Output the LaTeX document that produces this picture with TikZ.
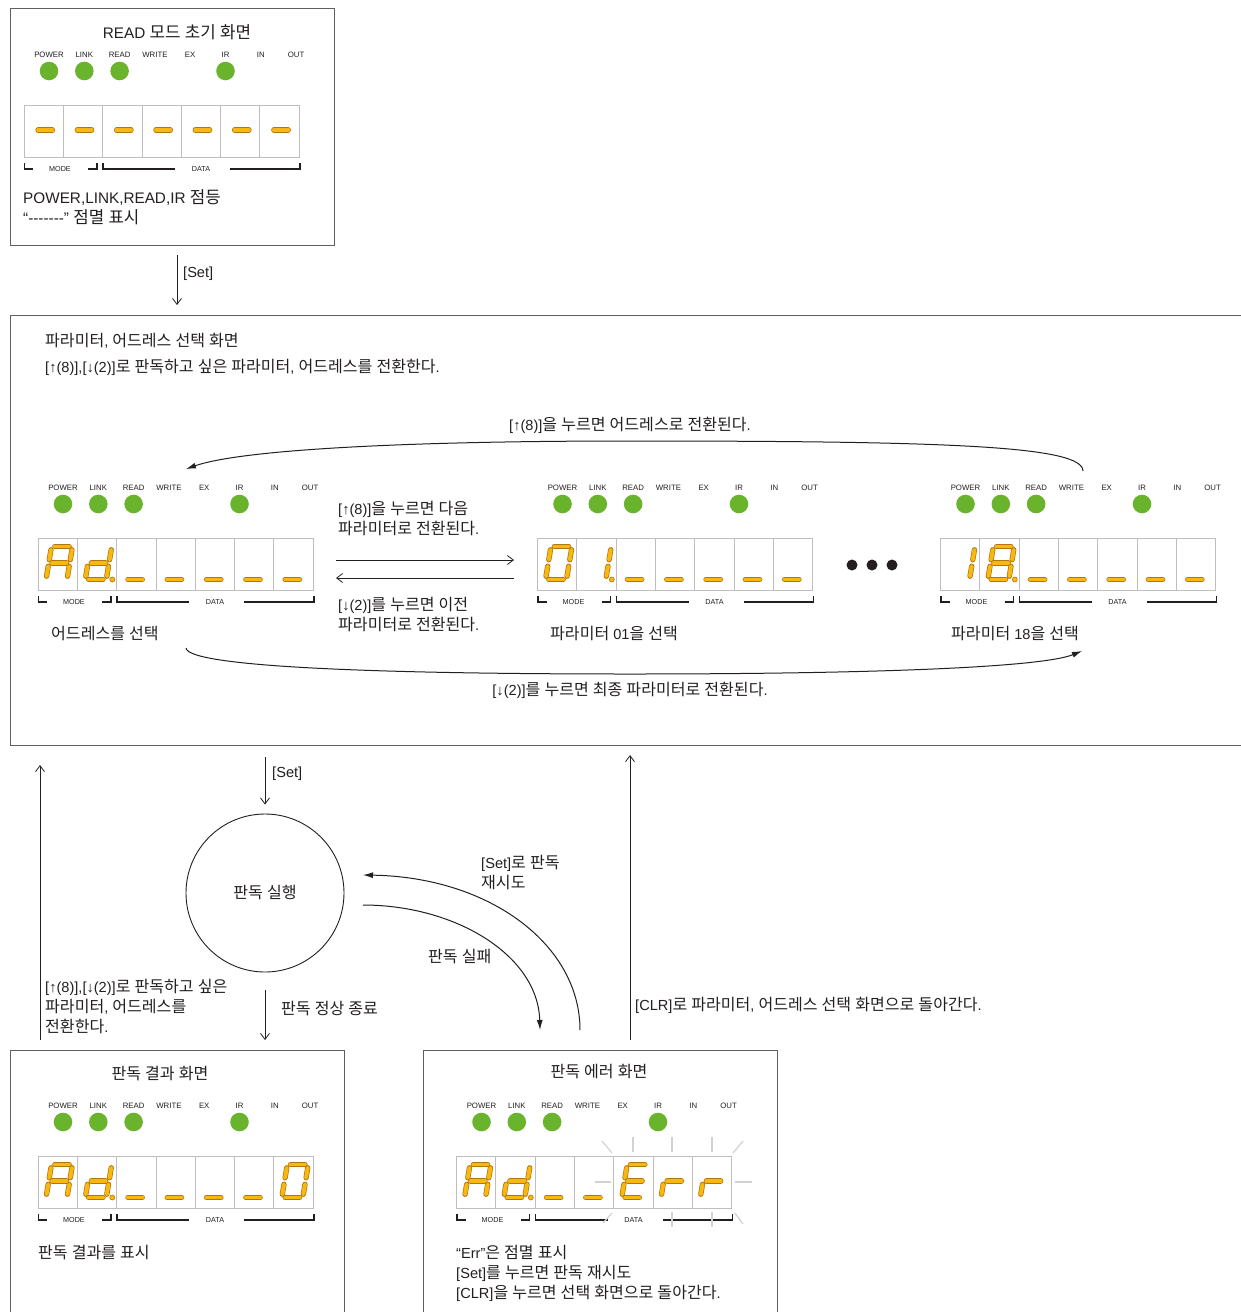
\documentclass[tikz,border=0pt]{standalone}
\usepackage{fontspec}
\setmainfont{Liberation Sans}
\newfontfamily\krfont[Scale=1.1]{Noto Sans CJK KR}
% Hangul syllables switch to the Korean face, everything else stays Latin
\XeTeXinterchartokenstate=1
\chardef\hangulclass=7
\makeatletter
\count@="AC00
\loop
	\XeTeXcharclass\count@=\hangulclass
	\advance\count@ by 1
\ifnum\count@<"D7A4 \repeat
\makeatother
\XeTeXinterchartoks 0 \hangulclass = {\krfont}
\XeTeXinterchartoks 1 \hangulclass = {\krfont}
\XeTeXinterchartoks 2 \hangulclass = {\krfont}
\XeTeXinterchartoks 3 \hangulclass = {\krfont}
\XeTeXinterchartoks 4095 \hangulclass = {\krfont}
\XeTeXinterchartoks \hangulclass 0 = {\rmfamily}
\XeTeXinterchartoks \hangulclass 1 = {\rmfamily}
\XeTeXinterchartoks \hangulclass 2 = {\rmfamily}
\XeTeXinterchartoks \hangulclass 3 = {\rmfamily}
\XeTeXinterchartoks \hangulclass 4095 = {\rmfamily}

\usetikzlibrary{arrows.meta, calc}
\definecolor{ledgreen}{RGB}{106, 180, 45}
\definecolor{segfill} {RGB}{248, 184, 18}
\definecolor{segedge} {RGB}{180, 118, 10}
\definecolor{cellgray}{RGB}{190, 190, 190}
\definecolor{boxgray} {RGB}{95, 95, 95}
\definecolor{ink}     {RGB}{35, 31, 32}
\definecolor{raygray} {RGB}{210, 210, 210}

\tikzset{
	framebox/.style={draw=boxgray, line width=1pt},
	txt/.style={anchor=west, inner sep=0pt, text=ink, align=left, font=\fontsize{14.6}{20}\selectfont},
	title/.style={inner sep=0pt, text=ink, font=\fontsize{14.6}{18}\selectfont},
	ledlabel/.style={inner sep=0pt, text=ink, font=\fontsize{7.8}{9}\selectfont},
	panellabel/.style={inner sep=0pt, text=ink, font=\fontsize{7.2}{9}\selectfont},
	cellbox/.style={draw=cellgray, line width=0.8pt},
	bracket/.style={draw=ink, line width=1.1pt},
	segment/.style={draw=segedge, line width=0.7pt, double=segfill, double distance=3.9pt,
		line cap=round, shorten >=3.3pt, shorten <=3.3pt},
	ray/.style={draw=raygray, line width=1.2pt},
	arr/.style={draw=ink, line width=0.8pt, -{Straight Barb[length=6pt,width=9pt]}},
	curvearr/.style={draw=ink, line width=1pt, -{Latex[length=10pt,width=6pt]}}
}

% LED names and lamps above a display, #2,#3 = top left of the digit row
\newcommand{\ledrow}[3]{%
	\foreach \lbl [count=\i from 0] in {POWER,LINK,READ,WRITE,EX,IR,IN,OUT}
		\node[ledlabel] (#1-\lbl) at ({#2+25+35.3*\i},{#3-50}) {\lbl};
	\foreach \i in {0,1,2,5}
		\fill[ledgreen] ({#2+25+35.3*\i},{#3-34}) circle (9.3pt);
}
% seven cells and the MODE / DATA brackets
\newcommand{\cellrow}[3]{%
	\foreach \i in {0,...,6}
		\draw[cellbox] ({#2+39.3*\i},#3) rectangle ++(39.3,52);
	\draw[bracket] ({#2+0.5},{#3+58}) |- ({#2+9},{#3+64});
	\node[panellabel] (#1-mode) at ({#2+36},{#3+64}) {MODE};
	\draw[bracket] ({#2+64},{#3+64}) -| ({#2+73},{#3+58});
	\draw[bracket] ({#2+79},{#3+58}) |- ({#2+151},{#3+64});
	\node[panellabel] (#1-data) at ({#2+177},{#3+64}) {DATA};
	\draw[bracket] ({#2+206},{#3+64}) -| ({#2+276},{#3+58});
}
% one seven segment digit, #1,#2 = top left of its cell
\newcommand{\sevseg}[3]{%
	\begin{scope}[shift={(#1,#2)}]
		\coordinate (sa1) at (13.5,8.5);  \coordinate (sa2) at (34.5,8.5);
		\coordinate (sb1) at (34.5,8.5);  \coordinate (sb2) at (31.75,25);
		\coordinate (sc1) at (31.75,25);  \coordinate (sc2) at (29,41.5);
		\coordinate (sd1) at (8,41.5);    \coordinate (sd2) at (29,41.5);
		\coordinate (se1) at (10.75,25);  \coordinate (se2) at (8,41.5);
		\coordinate (sf1) at (13.5,8.5);  \coordinate (sf2) at (10.75,25);
		\coordinate (sg1) at (10.75,25);  \coordinate (sg2) at (31.75,25);
		\foreach \s in {#3}
			\draw[segment] (s\s1) -- (s\s2);
	\end{scope}}
\newcommand{\segdot}[2]{%
	\fill[segfill, draw=segedge, line width=0.6pt] ({#1+35},{#2+41.5}) circle (2.5pt);}

\begin{document}
\begin{tikzpicture}[x=1pt, y=-1pt]
	\useasboundingbox (0,0) rectangle (1241,1312);
	\clip (0,0) rectangle (1241,1312);
	\fill[white] (0,0) rectangle (1241,1312);

	% READ mode start screen
	\draw[framebox] (10,8) rectangle (334,245);
	\node[title, font=\fontsize{15.3}{18}\selectfont] (readtitle) at (177,32) {READ 모드 초기 화면};
	\ledrow{rd}{24}{105}
	\cellrow{rd}{24}{105}
	\foreach \k in {0,...,6} {\sevseg{24+39.3*\k}{105}{g}}
	\node[txt, font=\fontsize{15.3}{20}\selectfont] (readnote) at (23,207)
		{POWER,LINK,READ,IR 점등\\“-{}-{}-{}-{}-{}-{}-” 점멸 표시};

	\coordinate (set1a) at (177,255);
	\coordinate (set1b) at (177,305);
	\draw[arr] (set1a) -- (set1b);
	\node[txt] (set1lbl) at (183,274) {[Set]};

	% parameter / address selection screen
	\draw[framebox] (1250,315) -- (10,315) -- (10,745) -- (1250,745);
	\node[txt] (seltitle) at (45,341) {파라미터, 어드레스 선택 화면};
	\node[txt] (selnote) at (45,367) {[↑(8)],[↓(2)]로 판독하고 싶은 파라미터, 어드레스를 전환한다.};

	\ledrow{ad}{38}{538}
	\cellrow{ad}{38}{538}
	\sevseg{38}{538}{a,b,c,e,f,g}
	\sevseg{77.3}{538}{b,c,d,e,g}
	\segdot{77.3}{538}
	\foreach \k in {2,...,6} {\sevseg{38+39.3*\k}{538}{d}}
	\node[txt] (adcap) at (51,633) {어드레스를 선택};

	\ledrow{pa}{537.5}{538}
	\cellrow{pa}{537.5}{538}
	\sevseg{537.5}{538}{a,b,c,d,e,f}
	\sevseg{576.8}{538}{b,c}
	\segdot{576.8}{538}
	\foreach \k in {2,...,6} {\sevseg{537.5+39.3*\k}{538}{d}}
	\node[txt] (pacap) at (550,633) {파라미터 01을 선택};

	\ledrow{pz}{940.5}{538}
	\cellrow{pz}{940.5}{538}
	\sevseg{940.5}{538}{b,c}
	\sevseg{979.8}{538}{a,b,c,d,e,f,g}
	\segdot{979.8}{538}
	\foreach \k in {2,...,6} {\sevseg{940.5+39.3*\k}{538}{d}}
	\node[txt] (pzcap) at (951,633) {파라미터 18을 선택};

	\foreach \x in {852,872,892}
		\fill[ink] (\x,565) circle (5.5pt);

	\coordinate (nextA) at (336,560);
	\coordinate (nextB) at (514,560);
	\coordinate (prevA) at (514,578);
	\coordinate (prevB) at (336,578);
	\draw[arr] (nextA) -- (nextB);
	\draw[arr] (prevA) -- (prevB);
	\node[txt] (nextlbl) at (338,518) {[↑(8)]을 누르면 다음\\파라미터로 전환된다.};
	\node[txt] (prevlbl) at (338,614) {[↓(2)]를 누르면 이전\\파라미터로 전환된다.};

	\coordinate (topR) at (1083,471);
	\coordinate (topL) at (186,469);
	\draw[curvearr] (topR) .. controls (1083,446) and (950,441) .. (630,441)
		.. controls (400,441) and (240,450) .. (topL);
	\node[title] (toplbl) at (630,425) {[↑(8)]을 누르면 어드레스로 전환된다.};

	\coordinate (botL) at (186,648);
	\coordinate (botR) at (1082,651);
	\draw[curvearr] (botL) .. controls (188,668) and (400,674) .. (630,674)
		.. controls (860,674) and (1040,668) .. (botR);
	\node[title] (botlbl) at (630,690) {[↓(2)]를 누르면 최종 파라미터로 전환된다.};

	% reading
	\node[draw=ink, circle, line width=0.9pt, minimum size=158pt, inner sep=0pt,
		text=ink, font=\fontsize{14.6}{18}\selectfont] (exec) at (265,893) {판독 실행};
	\coordinate (set2a) at (265,757);
	\draw[arr, shorten >=9pt] (set2a) -- (exec);
	\node[txt] (set2lbl) at (272,774) {[Set]};

	\coordinate (doneB) at (265,1040);
	\draw[arr, shorten <=18pt] (exec) -- (doneB);
	\node[txt] (donelbl) at (281,1009) {판독 정상 종료};

	\coordinate (failA) at (363,905);
	\coordinate (failB) at (540,1030);
	\draw[curvearr] (failA) .. controls (455,905) and (538,955) .. (failB);
	\node[txt] (faillbl) at (428,957) {판독 실패};

	\coordinate (retryA) at (580,1030);
	\coordinate (retryB) at (363,875);
	\draw[curvearr] (retryA) .. controls (580,945) and (490,877) .. (retryB);
	\node[txt] (retrylbl) at (481,872) {[Set]로 판독\\재시도};

	\coordinate (backA) at (40,1040);
	\coordinate (backB) at (40,765);
	\draw[arr] (backA) -- (backB);
	\node[txt] (backlbl) at (45,1006) {[↑(8)],[↓(2)]로 판독하고 싶은\\파라미터, 어드레스를\\전환한다.};

	\coordinate (clrA) at (630,1040);
	\coordinate (clrB) at (630,755);
	\draw[arr] (clrA) -- (clrB);
	\node[txt] (clrlbl) at (635,1005) {[CLR]로 파라미터, 어드레스 선택 화면으로 돌아간다.};

	% reading result screen
	\draw[framebox] (10,1320) |- (344,1050) -- (344,1320);
	\node[title] (restitle) at (160,1074) {판독 결과 화면};
	\ledrow{rs}{38}{1156}
	\cellrow{rs}{38}{1156}
	\sevseg{38}{1156}{a,b,c,e,f,g}
	\sevseg{77.3}{1156}{b,c,d,e,g}
	\segdot{77.3}{1156}
	\foreach \k in {2,...,5} {\sevseg{38+39.3*\k}{1156}{d}}
	\sevseg{38+39.3*6}{1156}{a,b,c,d,e,f}
	\node[txt] (rescap) at (38,1253) {판독 결과를 표시};

	% reading error screen
	\draw[framebox] (423,1320) |- (777,1050) -- (777,1320);
	\node[title] (errtitle) at (599,1072) {판독 에러 화면};
	\ledrow{er}{456.5}{1156}
	\cellrow{er}{456.5}{1156}
	\sevseg{456.5}{1156}{a,b,c,e,f,g}
	\sevseg{495.8}{1156}{b,c,d,e,g}
	\segdot{495.8}{1156}
	\foreach \k in {2,3} {\sevseg{456.5+39.3*\k}{1156}{d}}
	\sevseg{456.5+39.3*4}{1156}{a,d,e,f,g}
	\foreach \k in {5,6} {\sevseg{456.5+39.3*\k}{1156}{e,g}}
	% blinking marks round "Err"
	\draw[ray] (602,1141) -- (612,1153);
	\foreach \x in {633,672,712}
		\draw[ray] (\x,1137) -- (\x,1152);
	\draw[ray] (733,1153) -- (743,1141);
	\draw[ray] (595,1182) -- (611,1182);
	\draw[ray] (735,1182) -- (752,1182);
	\draw[ray] (603,1223) -- (612,1213);
	\foreach \x in {672,712}
		\draw[ray] (\x,1212) -- (\x,1227);
	\draw[ray] (735,1213) -- (743,1224);
	\node[txt] (errcap) at (456,1273) {“Err”은 점멸 표시\\{}[Set]를 누르면 판독 재시도\\{}[CLR]을 누르면 선택 화면으로 돌아간다.};
\end{tikzpicture}
\end{document}
